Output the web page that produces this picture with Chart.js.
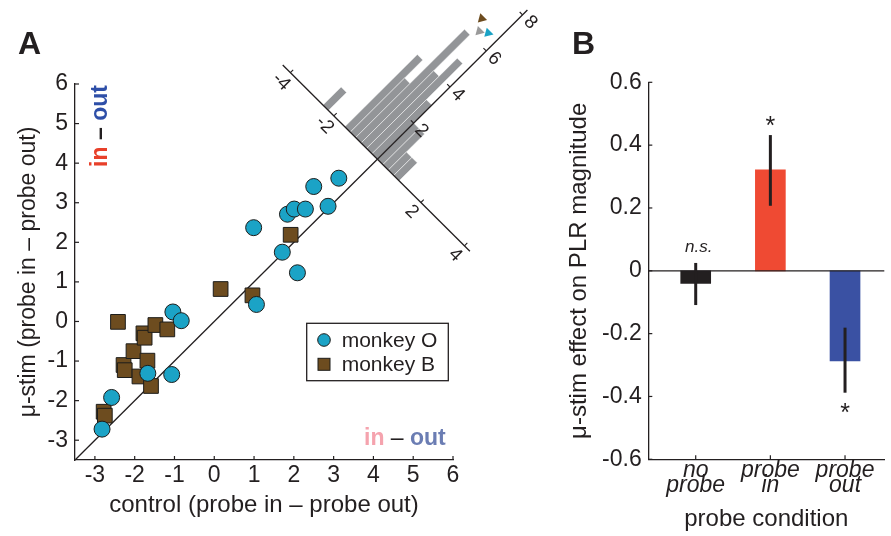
<!DOCTYPE html>
<html>
<head>
<meta charset="utf-8">
<script src="https://cdn.jsdelivr.net/npm/chart.js@4/dist/chart.umd.min.js"></script>
<style>
html,body{margin:0;padding:0;background:#ffffff;}
#wrap{position:relative;width:891px;height:536px;overflow:hidden;background:#fff;}
#boxA{position:absolute;left:0;top:0;width:560px;height:536px;}
#boxB{position:absolute;left:560px;top:0;width:331px;height:536px;}
</style>
</head>
<body>
<div id="wrap">
  <div id="boxA"><canvas id="cA" width="560" height="536"></canvas></div>
  <div id="boxB"><canvas id="cB" width="331" height="536"></canvas></div>
</div>
<script>
// ---------------- Panel A data ----------------
const monkeyOControl = [-2.82, -2.58, -1.67, -1.07, -1.04, -0.83, 0.99, 1.06, 1.71, 2.09, 1.84, 2.01, 2.29, 2.50, 2.86, 3.13];
const monkeyOStim    = [-2.72, -1.92, -1.31, -1.34,  0.24,  0.02, 2.37, 0.43, 1.75, 1.23, 2.71, 2.84, 2.84, 3.41, 2.91, 3.62];
const monkeyBControl = [-2.78, -2.75, -2.42, -2.28, -2.25, -2.03, -1.88, -1.78, -1.75, -1.68, -1.59, -1.48, -1.18, 0.16, 0.96, 1.92];
const monkeyBStim    = [-2.28, -2.38, -0.01, -1.10, -1.23, -0.75, -1.39, -0.30, -0.41, -0.99, -1.63, -0.09, -0.20, 0.82, 0.66, 2.19];
const unityLine      = [-3.5, 7.87];

// rotated histogram of (control - stim) differences
const histBinCenters = [-2.375, -1.375, -1.125, -0.875, -0.625, -0.375, -0.125, 0.125, 0.375, 0.625, 0.875];
const histCounts     = [1, 4, 3, 6, 4, 5, 3, 2, 2, 1, 1];
const histBinWidth   = 0.25;
const histAxisTicks  = [-4, -2, 2, 4];
const histCountTicks = [2, 4, 6, 8];
const meanGroups     = ['monkey B', 'all', 'monkey O'];
const meanValues     = [-0.85, -0.61, -0.37];

// ---------------- Panel B data ----------------
const conditions   = [['no', 'probe'], ['probe', 'in'], ['probe', 'out']];
const effect       = [-0.040, 0.321, -0.287];
const errLow       = [-0.109, 0.207, -0.388];
const errHigh      = [0.025, 0.432, -0.181];
const significance = ['n.s.', '*', '*'];

// ---------------- styles / layout ----------------
const FAM = '"Liberation Sans", Arial, Helvetica, sans-serif';
const INK = '#231f20';
const CYAN = '#1ba3c6', BROWN = '#6d4c1f', GREY = '#939598';
const BAR_COLORS = ['#231f20', '#ef4a33', '#3a51a3'];
const HIST = {ox: 4.1, oy: 4.1, uStep: 0.547, vStep: 0.456, uMin: -4.35, uMax: 4.25};
const MEAN_HEIGHT = [6.77, 6.35, 6.55];
const MEAN_COLORS = [BROWN, '#9a9a9a', CYAN];
Chart.defaults.font.family = FAM;
Chart.defaults.color = INK;

function drawSegments(ctx, segs, x, y, rot, align) {
  ctx.save();
  ctx.translate(x, y);
  ctx.rotate(rot);
  let total = 0;
  segs.forEach(s => { ctx.font = s.font; s.w = ctx.measureText(s.text).width; total += s.w; });
  let cx = align === 'center' ? -total / 2 : 0;
  ctx.textBaseline = 'alphabetic';
  ctx.textAlign = 'left';
  segs.forEach(s => { ctx.font = s.font; ctx.fillStyle = s.color; ctx.fillText(s.text, cx, 0); cx += s.w; });
  ctx.restore();
}

function inwardTicks(ctx, chart, len) {
  const xs = chart.scales.x, ys = chart.scales.y, a = chart.chartArea;
  ctx.save();
  ctx.strokeStyle = INK; ctx.lineWidth = 1.2;
  xs.ticks.forEach(t => {
    const px = xs.getPixelForValue(t.value);
    ctx.beginPath(); ctx.moveTo(px, a.bottom); ctx.lineTo(px, a.bottom - len); ctx.stroke();
  });
  ys.ticks.forEach(t => {
    const py = ys.getPixelForValue(t.value);
    ctx.beginPath(); ctx.moveTo(a.left, py); ctx.lineTo(a.left + len, py); ctx.stroke();
  });
  ctx.restore();
}

// histogram coordinate (u along anti-diagonal, v = count along diagonal) -> pixel
function hpt(chart, u, v) {
  const dx = HIST.ox + HIST.uStep * u + HIST.vStep * v;
  const dy = HIST.oy - HIST.uStep * u + HIST.vStep * v;
  return [chart.scales.x.getPixelForValue(dx), chart.scales.y.getPixelForValue(dy)];
}
function unitVec(p, q) { const dx = q[0] - p[0], dy = q[1] - p[1], l = Math.hypot(dx, dy); return [dx / l, dy / l]; }

const panelAPlugin = {
  id: 'panelA',
  beforeDatasetsDraw(chart) {
    const ctx = chart.ctx;
    ctx.save();
    histBinCenters.forEach((c, i) => {
      const u0 = c - histBinWidth / 2, u1 = c + histBinWidth / 2, h = histCounts[i];
      const pts = [hpt(chart, u0, 0), hpt(chart, u1, 0), hpt(chart, u1, h), hpt(chart, u0, h)];
      ctx.beginPath();
      ctx.moveTo(pts[0][0], pts[0][1]);
      for (let k = 1; k < 4; k++) ctx.lineTo(pts[k][0], pts[k][1]);
      ctx.closePath();
      ctx.fillStyle = GREY; ctx.fill();
      ctx.strokeStyle = 'rgba(255,255,255,0.75)'; ctx.lineWidth = 0.6; ctx.stroke();
    });
    ctx.restore();
  },
  afterDatasetsDraw(chart) {
    const ctx = chart.ctx;
    const o = hpt(chart, 0, 0);
    const nU = unitVec(o, hpt(chart, 1, 0));
    const nV = unitVec(o, hpt(chart, 0, 1));
    ctx.save();
    // anti-diagonal histogram axis
    const a0 = hpt(chart, HIST.uMin, 0), a1 = hpt(chart, HIST.uMax, 0);
    ctx.strokeStyle = INK; ctx.lineWidth = 1.3;
    ctx.beginPath(); ctx.moveTo(a0[0], a0[1]); ctx.lineTo(a1[0], a1[1]); ctx.stroke();
    ctx.font = '19px ' + FAM; ctx.fillStyle = INK; ctx.textAlign = 'center'; ctx.textBaseline = 'middle';
    ctx.lineWidth = 1.1;
    histAxisTicks.forEach(t => {
      const p = hpt(chart, t, 0);
      ctx.beginPath(); ctx.moveTo(p[0], p[1]); ctx.lineTo(p[0] + 4 * nV[0], p[1] + 4 * nV[1]); ctx.stroke();
      const lx = p[0] - 13 * nV[0], ly = p[1] - 13 * nV[1];
      ctx.save(); ctx.translate(lx, ly); ctx.rotate(Math.PI / 4); ctx.fillText(String(t), 0, 0); ctx.restore();
    });
    histCountTicks.forEach(t => {
      const p = hpt(chart, 0, t);
      ctx.beginPath(); ctx.moveTo(p[0], p[1]); ctx.lineTo(p[0] - 4 * nU[0], p[1] - 4 * nU[1]); ctx.stroke();
      const lx = p[0] + 11 * nU[0], ly = p[1] + 11 * nU[1];
      ctx.save(); ctx.translate(lx, ly); ctx.rotate(Math.PI / 4); ctx.fillText(String(t), 0, 0); ctx.restore();
    });
    // mean markers (triangles pointing toward the histogram axis)
    meanValues.forEach((m, i) => {
      const c = hpt(chart, m, MEAN_HEIGHT[i]);
      const r = 5.5;
      ctx.beginPath();
      ctx.moveTo(c[0] - nV[0] * r, c[1] - nV[1] * r);
      ctx.lineTo(c[0] + nV[0] * r * 0.5 + nU[0] * r * 0.87, c[1] + nV[1] * r * 0.5 + nU[1] * r * 0.87);
      ctx.lineTo(c[0] + nV[0] * r * 0.5 - nU[0] * r * 0.87, c[1] + nV[1] * r * 0.5 - nU[1] * r * 0.87);
      ctx.closePath();
      ctx.fillStyle = MEAN_COLORS[i]; ctx.fill();
    });
    ctx.restore();

    inwardTicks(ctx, chart, 4);

    // legend
    ctx.save();
    ctx.strokeStyle = INK; ctx.lineWidth = 1.3;
    ctx.strokeRect(306.7, 323.3, 141.6, 57.4);
    const dsO = chart.data.datasets[0], dsB = chart.data.datasets[1];
    ctx.beginPath(); ctx.arc(324, 340, 6.3, 0, Math.PI * 2);
    ctx.fillStyle = dsO.backgroundColor; ctx.fill(); ctx.lineWidth = 1; ctx.strokeStyle = dsO.borderColor; ctx.stroke();
    ctx.fillStyle = dsB.backgroundColor; ctx.fillRect(318, 358.3, 12, 12); ctx.strokeRect(318, 358.3, 12, 12);
    ctx.font = '21px ' + FAM; ctx.fillStyle = INK; ctx.textAlign = 'left'; ctx.textBaseline = 'alphabetic';
    ctx.fillText(dsO.label, 341.7, 346.7);
    ctx.fillText(dsB.label, 341.7, 371);
    ctx.restore();

    // in - out annotations
    const bold = 'bold 23px ' + FAM;
    drawSegments(ctx, [
      {text: 'in', font: bold, color: '#e8402a'},
      {text: ' \u2013 ', font: bold, color: INK},
      {text: 'out', font: bold, color: '#2e4fa8'}
    ], 107, 126, -Math.PI / 2, 'center');
    drawSegments(ctx, [
      {text: 'in', font: bold, color: '#f5a3ae'},
      {text: ' \u2013 ', font: '23px ' + FAM, color: INK},
      {text: 'out', font: bold, color: '#6b7db3'}
    ], 364, 445, 0, 'left');

    // panel letter
    ctx.save();
    ctx.font = 'bold 32px ' + FAM; ctx.fillStyle = INK; ctx.textAlign = 'left'; ctx.textBaseline = 'alphabetic';
    ctx.fillText('A', 18, 53.5);
    ctx.restore();
  }
};

const toXY = (xs, ys) => xs.map((x, i) => ({x: x, y: ys[i]}));

new Chart(document.getElementById('cA'), {
  type: 'scatter',
  data: {
    datasets: [
      {label: 'monkey O', data: toXY(monkeyOControl, monkeyOStim), pointStyle: 'circle', pointRadius: 8,
       backgroundColor: CYAN, borderColor: '#1d1d1b', borderWidth: 1, order: 1},
      {label: 'monkey B', data: toXY(monkeyBControl, monkeyBStim), pointStyle: 'rect', pointRadius: 10.4,
       backgroundColor: BROWN, borderColor: '#1d1d1b', borderWidth: 1, order: 2},
      {type: 'line', label: 'unity', data: toXY(unityLine, unityLine), borderColor: INK, borderWidth: 1.3,
       pointRadius: 0, showLine: true, fill: false, clip: false, order: 3}
    ]
  },
  options: {
    responsive: false, animation: false, devicePixelRatio: 1,
    layout: {padding: {top: 84, right: 107, left: 0, bottom: 0}},
    plugins: {legend: {display: false}, tooltip: {enabled: false}},
    scales: {
      x: {
        type: 'linear', min: -3.5, max: 6,
        grid: {display: false, drawTicks: false},
        border: {display: true, color: INK, width: 1.3},
        ticks: {stepSize: 1, includeBounds: false, padding: 4, color: INK, font: {size: 23, lineHeight: 1},
                maxRotation: 0, autoSkip: false, callback: v => String(v)},
        title: {display: true, text: 'control (probe in \u2013 probe out)', color: INK, font: {size: 24}, padding: {top: 0, bottom: 16}},
        afterFit(s) { s.height = 76; }
      },
      y: {
        type: 'linear', min: -3.5, max: 6,
        grid: {display: false, drawTicks: false},
        border: {display: true, color: INK, width: 1.3},
        ticks: {stepSize: 1, includeBounds: false, padding: 7, color: INK, font: {size: 23}, autoSkip: false, callback: v => String(v)},
        title: {display: true, text: '\u03bc-stim (probe in \u2013 probe out)', color: INK, font: {size: 23}, padding: {top: 15, bottom: 0}},
        afterFit(s) { s.width = 75; }
      }
    }
  },
  plugins: [panelAPlugin]
});

// ---------------- Panel B ----------------
const panelBPlugin = {
  id: 'panelB',
  afterDatasetsDraw(chart) {
    const ctx = chart.ctx, xs = chart.scales.x, ys = chart.scales.y, a = chart.chartArea;
    ctx.save();
    // zero line
    ctx.strokeStyle = INK; ctx.lineWidth = 1.3;
    const z = ys.getPixelForValue(0);
    ctx.beginPath(); ctx.moveTo(a.left, z); ctx.lineTo(a.right, z); ctx.stroke();
    // error bars
    ctx.lineWidth = 3; ctx.lineCap = 'butt';
    effect.forEach((v, i) => {
      const px = xs.getPixelForValue(i + 1);
      ctx.beginPath(); ctx.moveTo(px, ys.getPixelForValue(errLow[i])); ctx.lineTo(px, ys.getPixelForValue(errHigh[i])); ctx.stroke();
    });
    // significance marks
    ctx.fillStyle = INK; ctx.textAlign = 'center'; ctx.textBaseline = 'alphabetic';
    significance.forEach((s, i) => {
      const px = xs.getPixelForValue(i + 1);
      if (s === 'n.s.') {
        ctx.font = 'italic 17px ' + FAM;
        ctx.fillText(s, px + 3, ys.getPixelForValue(errHigh[i]) - 15 + 4.5);
      } else {
        ctx.font = '25px ' + FAM;
        const cy = effect[i] >= 0 ? ys.getPixelForValue(errHigh[i]) - 15 : ys.getPixelForValue(errLow[i]) + 14;
        ctx.fillText(s, px, cy + 14);
      }
    });
    ctx.restore();
    inwardTicks(ctx, chart, 4);
    ctx.save();
    ctx.font = 'bold 32px ' + FAM; ctx.fillStyle = INK; ctx.textAlign = 'left'; ctx.textBaseline = 'alphabetic';
    ctx.fillText('B', 12, 53.5);
    ctx.restore();
  }
};

new Chart(document.getElementById('cB'), {
  type: 'bar',
  data: {
    datasets: [{
      label: 'effect',
      data: effect.map((v, i) => ({x: i + 1, y: v})),
      backgroundColor: BAR_COLORS, borderWidth: 0, barThickness: 30
    }]
  },
  options: {
    responsive: false, animation: false, devicePixelRatio: 1,
    layout: {padding: {top: 82.3, right: 6.7, left: 0, bottom: 0}},
    plugins: {legend: {display: false}, tooltip: {enabled: false}},
    scales: {
      x: {
        type: 'linear', min: 0.365, max: 3.526, offset: false,
        grid: {display: false, drawTicks: false},
        border: {display: true, color: INK, width: 1.3},
        ticks: {stepSize: 1, includeBounds: false, padding: 4, color: INK, maxRotation: 0, autoSkip: false,
                font: {size: 23, style: 'italic', lineHeight: '15px'},
                callback: v => conditions[Math.round(v) - 1] || ''},
        title: {display: true, text: 'probe condition', color: INK, font: {size: 24}, padding: {top: 0, bottom: 2}},
        afterFit(s) { s.height = 76.7; }
      },
      y: {
        type: 'linear', min: -0.6, max: 0.6,
        grid: {display: false, drawTicks: false},
        border: {display: true, color: INK, width: 1.3},
        ticks: {stepSize: 0.2, padding: 6.6, color: INK, font: {size: 23}, autoSkip: false,
                callback: v => String(Math.round(v * 10) / 10)},
        title: {display: true, text: '\u03bc-stim effect on PLR magnitude', color: INK, font: {size: 24}, padding: {top: 4.6, bottom: 0}},
        afterFit(s) { s.width = 88.3; }
      }
    }
  },
  plugins: [panelBPlugin]
});
</script>
</body>
</html>
